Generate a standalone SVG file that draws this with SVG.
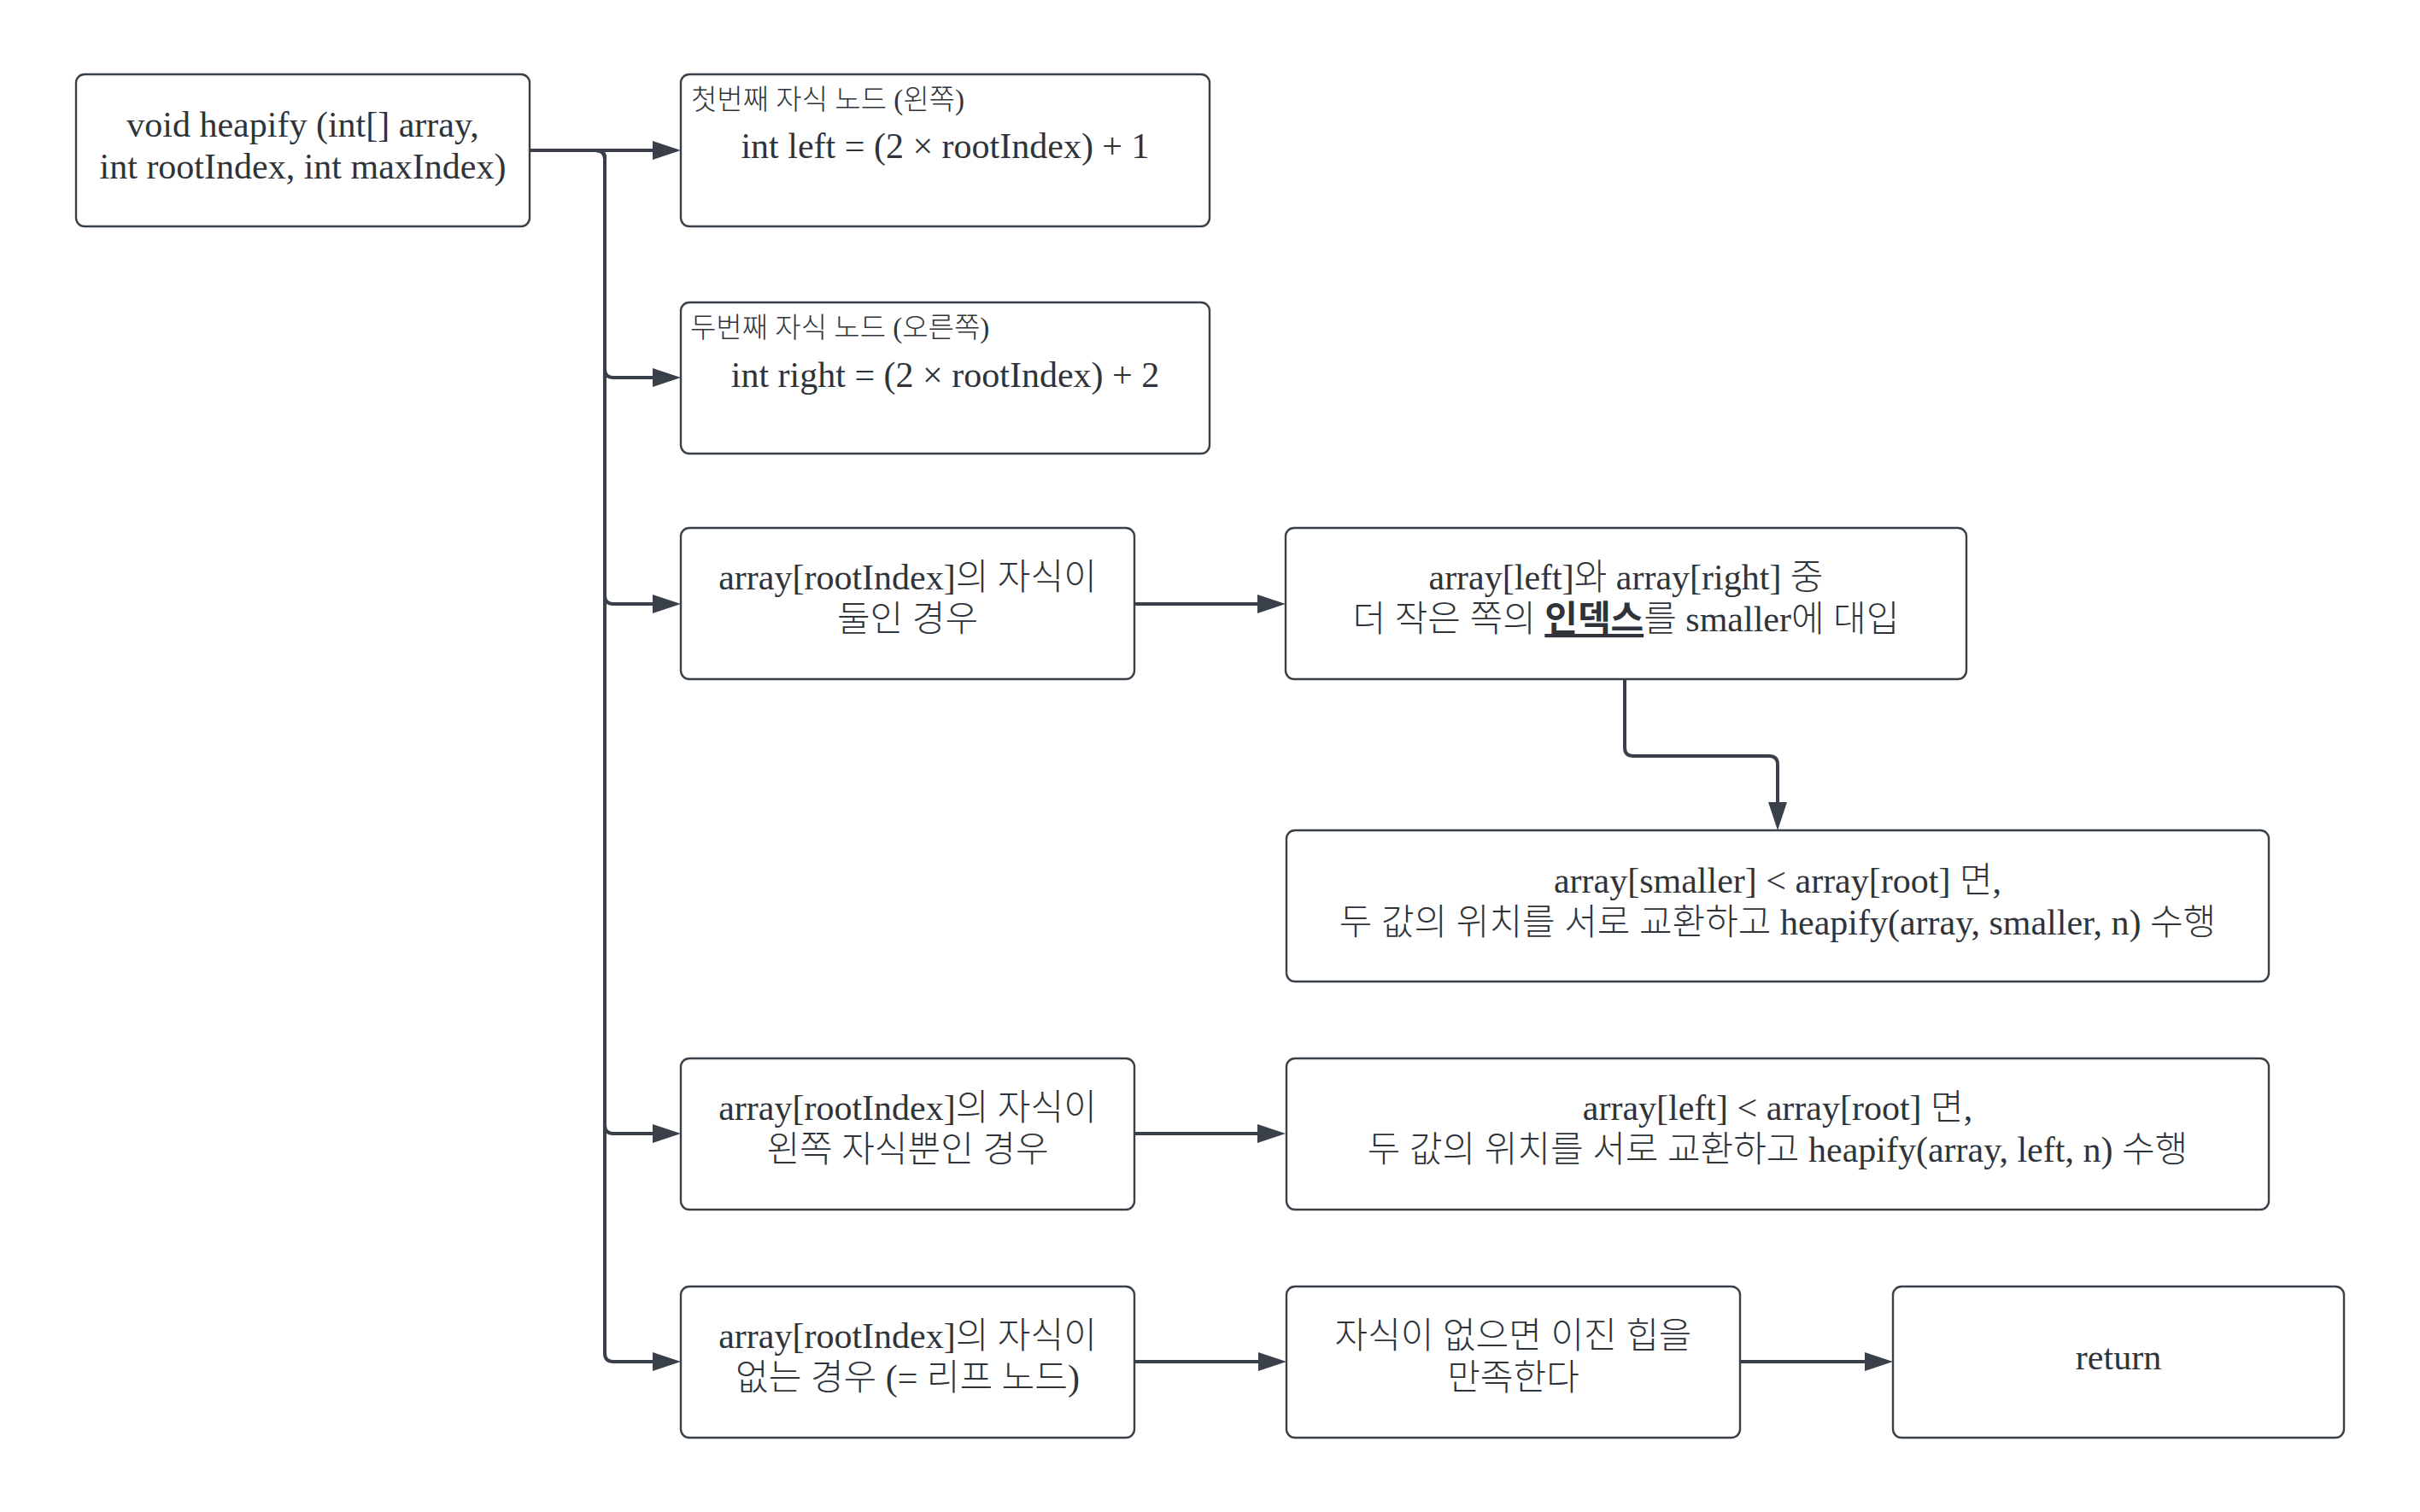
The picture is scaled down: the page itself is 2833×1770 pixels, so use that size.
<svg xmlns="http://www.w3.org/2000/svg" width="2833" height="1770" viewBox="0 0 2833 1770">
<style>
.node rect{fill:#ffffff;stroke:#3a4048;stroke-width:2.4}
.t{font-family:"Liberation Serif","Noto Sans CJK KR",serif;font-size:42px;font-weight:300;fill:#2f343a;text-anchor:middle}
.s{font-family:"Liberation Serif","Noto Sans CJK KR",serif;font-size:33px;font-weight:300;fill:#2f343a;text-anchor:start}
.c path{fill:none;stroke:#39404a;stroke-width:4;marker-end:url(#arr)}
</style>
<defs>
<marker id="arr" markerUnits="userSpaceOnUse" markerWidth="34" markerHeight="24" refX="3" refY="11" orient="auto">
<path d="M0,0 L33,11 L0,22 z" fill="#39404a"/>
</marker>
</defs>
<rect width="2833" height="1770" fill="#ffffff"/>
<g class="c" id="connectors">
<path d="M620,176 H767"/>
<path d="M620,176 H698 Q708,176 708,186 V432 Q708,442 718,442 H767"/>
<path d="M620,176 H698 Q708,176 708,186 V697 Q708,707 718,707 H767"/>
<path d="M620,176 H698 Q708,176 708,186 V1317 Q708,1327 718,1327 H767"/>
<path d="M620,176 H698 Q708,176 708,186 V1584 Q708,1594 718,1594 H767"/>
<path d="M1328,707 H1475"/>
<path d="M1902,796 V875 Q1902,885 1912,885 H2071 Q2081,885 2081,895 V942"/>
<path d="M1328,1327 H1475"/>
<path d="M1328,1594 H1476"/>
<path d="M2037,1594 H2186"/>
</g>
<g class="node" id="n1">
<rect x="89" y="87" width="531" height="178" rx="10"/>
<text class="t" x="354.5" y="160">void heapify (int[] array,</text>
<text class="t" x="354.5" y="209">int rootIndex, int maxIndex)</text>
</g>
<g class="node" id="n2">
<rect x="797" y="87" width="619" height="178" rx="10"/>
<text class="s" x="809" y="128">첫번째 자식 노드 (왼쪽)</text>
<text class="t" x="1106.5" y="185">int left = (2 × rootIndex) + 1</text>
</g>
<g class="node" id="n3">
<rect x="797" y="354" width="619" height="177" rx="10"/>
<text class="s" x="808" y="395">두번째 자식 노드 (오른쪽)</text>
<text class="t" x="1106.5" y="453">int right = (2 × rootIndex) + 2</text>
</g>
<g class="node" id="n4">
<rect x="797" y="618" width="531" height="177" rx="10"/>
<text class="t" x="1062.5" y="690">array[rootIndex]의 자식이</text>
<text class="t" x="1062.5" y="739">둘인 경우</text>
</g>
<g class="node" id="n5">
<rect x="1505" y="618" width="797" height="177" rx="10"/>
<text class="t" x="1903.5" y="690">array[left]와 array[right] 중</text>
<text class="t" x="1903.5" y="739">더 작은 쪽의 <tspan font-weight="bold" text-decoration="underline">인덱스</tspan>를 smaller에 대입</text>
</g>
<g class="node" id="n6">
<rect x="1506" y="972" width="1150" height="177" rx="10"/>
<text class="t" x="2081" y="1045">array[smaller] &lt; array[root] 면,</text>
<text class="t" x="2081" y="1094">두 값의 위치를 서로 교환하고 heapify(array, smaller, n) 수행</text>
</g>
<g class="node" id="n7">
<rect x="797" y="1239" width="531" height="177" rx="10"/>
<text class="t" x="1062.5" y="1311">array[rootIndex]의 자식이</text>
<text class="t" x="1062.5" y="1360">왼쪽 자식뿐인 경우</text>
</g>
<g class="node" id="n8">
<rect x="1506" y="1239" width="1150" height="177" rx="10"/>
<text class="t" x="2081" y="1311">array[left] &lt; array[root] 면,</text>
<text class="t" x="2081" y="1360">두 값의 위치를 서로 교환하고 heapify(array, left, n) 수행</text>
</g>
<g class="node" id="n9">
<rect x="797" y="1506" width="531" height="177" rx="10"/>
<text class="t" x="1062.5" y="1578">array[rootIndex]의 자식이</text>
<text class="t" x="1062.5" y="1627">없는 경우 (= 리프 노드)</text>
</g>
<g class="node" id="n10">
<rect x="1506" y="1506" width="531" height="177" rx="10"/>
<text class="t" x="1771.5" y="1578">자식이 없으면 이진 힙을</text>
<text class="t" x="1771.5" y="1627">만족한다</text>
</g>
<g class="node" id="n11">
<rect x="2216" y="1506" width="528" height="177" rx="10"/>
<text class="t" x="2480" y="1603">return</text>
</g>
</svg>
